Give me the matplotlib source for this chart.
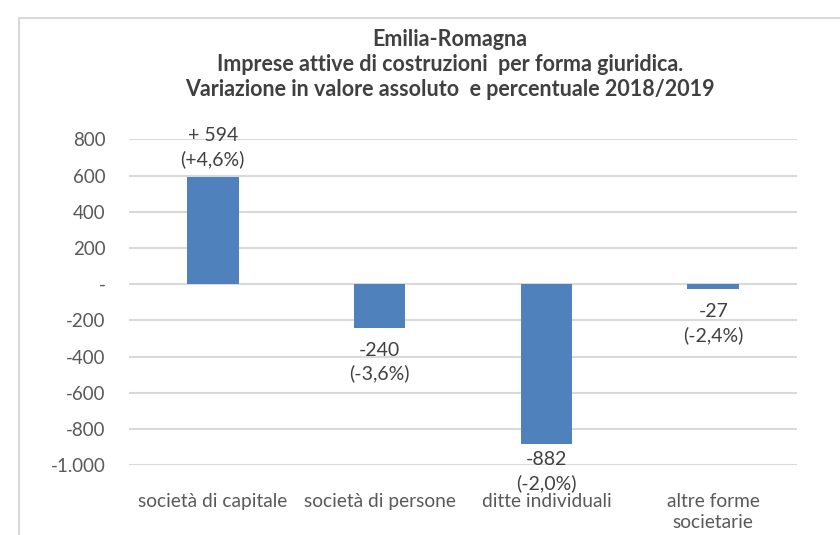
import matplotlib
matplotlib.use("Agg")
import matplotlib.pyplot as plt
from matplotlib.patches import Rectangle

categories = ["società di capitale", "società di persone", "ditte individuali", "altre forme\nsocietarie"]
values = [594, -240, -882, -27]
pct_labels = ["+4,6%", "-3,6%", "-2,0%", "-2,4%"]
abs_labels = ["+ 594", "-240", "-882", "-27"]
yticks = [800, 600, 400, 200, 0, -200, -400, -600, -800, -1000]
ytick_labels = ["800", "600", "400", "200", "-", "-200", "-400", "-600", "-800", "-1.000"]
title_lines = ["Emilia-Romagna",
               "Imprese attive di costruzioni  per forma giuridica.",
               "Variazione in valore assoluto  e percentuale 2018/2019"]

plt.rcParams['font.family'] = ['Lato', 'DejaVu Sans']
W, H = 840, 535
fig = plt.figure(figsize=(W/100, H/100), dpi=100)

# outer chart border
fig.patches.append(Rectangle((19/W, -0.1), 1.2, 1 - 18/H + 0.1, transform=fig.transFigure,
                             fill=False, edgecolor="#D9D9D9", linewidth=1.5))

ax = fig.add_axes([129.3/W, 1 - 465.3/H, (796.7-129.3)/W, (465.3-139.3)/H])
x = list(range(len(categories)))
bars = ax.bar(x, values, width=0.31, color="#4F81BD", zorder=3)
ax.set_xlim(-0.5, len(categories) - 0.5)
ax.set_ylim(-1000, 800)
ax.set_yticks(yticks)
ax.set_yticklabels(ytick_labels, fontsize=13.5, color="#595959")
ax.set_xticks(x)
ax.set_xticklabels(categories, fontsize=13.8, color="#595959", linespacing=1.3)
ax.tick_params(axis='both', length=0)
ax.tick_params(axis='y', pad=17)
ax.tick_params(axis='x', pad=20)
for s in ax.spines.values():
    s.set_visible(False)
ax.grid(axis='y', color="#D9D9D9", linewidth=1.5, zorder=0)
ax.set_axisbelow(True)

y_min = ax.get_ylim()[0]
for xi, v, a, p in zip(x, values, abs_labels, pct_labels):
    txt = f"{a}\n({p})"
    if v >= 0:
        ax.annotate(txt, (xi, v), xytext=(0, 6), textcoords="offset points",
                    ha="center", va="bottom", fontsize=14, color="#404040", linespacing=1.4)
    else:
        off = -5 if v < 0.85 * y_min else -10
        ax.annotate(txt, (xi, v), xytext=(0, off), textcoords="offset points",
                    ha="center", va="top", fontsize=14, color="#404040", linespacing=1.4)

for i, line in enumerate(title_lines):
    fig.text(450/W, 1 - (40 + 24.5*i)/H, line, ha="center", va="center",
             fontsize=15.5, fontweight="bold", color="#404040")

fig.savefig("out.png", dpi=100)
